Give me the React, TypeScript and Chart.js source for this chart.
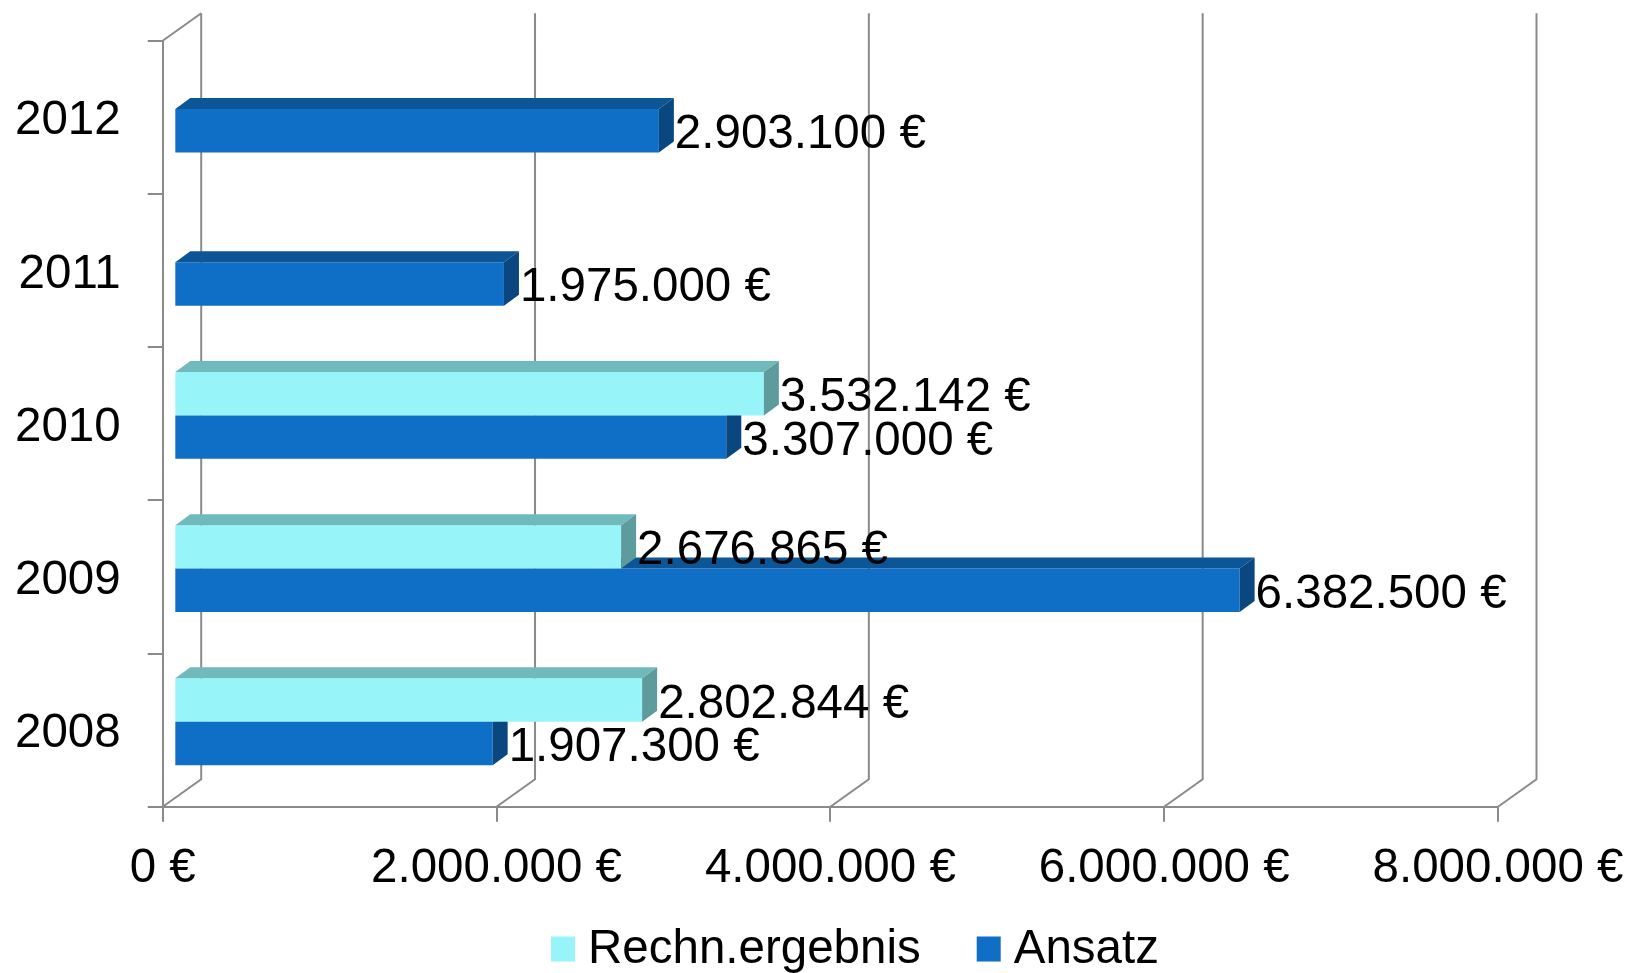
import React, { useEffect, useRef } from "react";
import { Chart, registerables } from "chart.js";

Chart.register(...registerables);

// ---- data ----
const years = ["2008", "2009", "2010", "2011", "2012"];
const rechnErgebnis: (number | null)[] = [2802844, 2676865, 3532142, null, null];
const ansatz: (number | null)[] = [1907300, 6382500, 3307000, 1975000, 2903100];
const xTickValues = [0, 2000000, 4000000, 6000000, 8000000];
const seriesNames = ["Rechn.ergebnis", "Ansatz"];

// ---- styles ----
const FONT = '"Liberation Sans", Arial, sans-serif';
const GRID = "#8a8a8a";
const FRONT = ["#97F5FA", "#0F6FC6"];
const TOP = ["#71BABC", "#0C5596"];
const SIDE = ["#5E9B9D", "#0A467F"];

const WALL_DX = 38.5;
const WALL_DY = -27.5;
const BAR_DX = 11.6;
const BAR_DY = -8.3;
const FACE_DX = 15;
const FACE_DY = -11;

const fmt = (v: number) =>
  String(Math.round(v)).replace(/\B(?=(\d{3})+(?!\d))/g, ".") + " €";

const threeDPlugin = {
  id: "threeD",
  beforeDatasetsDraw(chart: any) {
    const { ctx, chartArea: a, scales } = chart;
    const x = scales.x;
    ctx.save();
    ctx.strokeStyle = GRID;
    ctx.lineWidth = 2;
    ctx.beginPath();
    for (const v of xTickValues) {
      const px = x.getPixelForValue(v);
      ctx.moveTo(px + WALL_DX, a.top + WALL_DY);
      ctx.lineTo(px + WALL_DX, a.bottom + WALL_DY);
      ctx.lineTo(px, a.bottom);
    }
    ctx.moveTo(a.left, a.top);
    ctx.lineTo(a.left + WALL_DX, a.top + WALL_DY);
    ctx.stroke();
    ctx.restore();
    ctx.save();
    ctx.translate(BAR_DX, BAR_DY);
  },
  afterDatasetDraw(chart: any, args: any) {
    const { ctx } = chart;
    const meta = args.meta;
    const di = meta.index;
    const data = chart.data.datasets[di].data;
    meta.data.forEach((el: any, i: number) => {
      if (data[i] === null || data[i] === undefined) return;
      const x0 = el.base;
      const x1 = el.x;
      const yT = el.y - el.height / 2;
      const yB = el.y + el.height / 2;
      ctx.fillStyle = TOP[di];
      ctx.beginPath();
      ctx.moveTo(x0, yT);
      ctx.lineTo(x0 + FACE_DX, yT + FACE_DY);
      ctx.lineTo(x1 + FACE_DX, yT + FACE_DY);
      ctx.lineTo(x1, yT);
      ctx.closePath();
      ctx.fill();
      ctx.fillStyle = SIDE[di];
      ctx.beginPath();
      ctx.moveTo(x1, yT);
      ctx.lineTo(x1 + FACE_DX, yT + FACE_DY);
      ctx.lineTo(x1 + FACE_DX, yB + FACE_DY);
      ctx.lineTo(x1, yB);
      ctx.closePath();
      ctx.fill();
    });
  },
  afterDatasetsDraw(chart: any) {
    const { ctx } = chart;
    ctx.restore();
    ctx.save();
    ctx.font = `47.5px ${FONT}`;
    ctx.fillStyle = "#000";
    ctx.textAlign = "left";
    ctx.textBaseline = "alphabetic";
    chart.data.datasets.forEach((ds: any, di: number) => {
      const meta = chart.getDatasetMeta(di);
      meta.data.forEach((el: any, i: number) => {
        const v = ds.data[i];
        if (v === null || v === undefined) return;
        ctx.fillText(fmt(v), el.x + BAR_DX + FACE_DX + 1, el.y + BAR_DY + 17.5);
      });
    });
    ctx.restore();
  },
  afterDraw(chart: any) {
    const { ctx } = chart;
    ctx.save();
    ctx.font = `47.5px ${FONT}`;
    ctx.textBaseline = "middle";
    ctx.textAlign = "left";
    let cx = 551;
    const cy = 949.5;
    seriesNames.forEach((name, i) => {
      ctx.fillStyle = FRONT[i];
      ctx.fillRect(cx, cy - 13, 24, 25);
      cx += 24 + 13;
      ctx.fillStyle = "#000";
      ctx.fillText(name, cx, cy);
      cx += ctx.measureText(name).width + 56;
    });
    ctx.restore();
  },
};

export default function App() {
  const ref = useRef<HTMLCanvasElement>(null);
  useEffect(() => {
    if (!ref.current) return;
    const chart = new Chart(ref.current, {
      type: "bar",
      data: {
        labels: years,
        datasets: [
          {
            label: seriesNames[0],
            data: rechnErgebnis,
            backgroundColor: FRONT[0],
            borderWidth: 0,
            categoryPercentage: 0.567,
            barPercentage: 1,
            clip: false as any,
          },
          {
            label: seriesNames[1],
            data: ansatz,
            backgroundColor: FRONT[1],
            borderWidth: 0,
            categoryPercentage: 0.567,
            barPercentage: 1,
            clip: false as any,
          },
        ],
      },
      options: {
        indexAxis: "y",
        responsive: false,
        animation: false,
        devicePixelRatio: 1,
        layout: { padding: { top: 40.7, right: 132, bottom: 0, left: 0 } },
        plugins: {
          legend: { display: false },
          tooltip: { enabled: false },
        },
        scales: {
          x: {
            type: "linear",
            min: 0,
            max: 8000000,
            afterFit: (s: any) => {
              s.height = 973 - 806.7;
              s.paddingLeft = 0;
              s.paddingRight = 0;
            },
            afterBuildTicks: (s: any) => {
              s.ticks = xTickValues.map((v) => ({ value: v }));
            },
            grid: {
              drawOnChartArea: false,
              drawTicks: true,
              tickLength: 15,
              color: GRID,
              lineWidth: 2,
            },
            border: { display: true, color: GRID, width: 2 },
            ticks: {
              padding: 19,
              color: "#000",
              font: { family: FONT, size: 47.5 },
              maxRotation: 0,
              autoSkip: false,
              callback: (v: any) => fmt(Number(v)),
            },
          },
          y: {
            type: "category",
            reverse: true,
            afterFit: (s: any) => {
              s.width = 162.7;
              s.paddingTop = 0;
              s.paddingBottom = 0;
            },
            grid: {
              drawOnChartArea: false,
              drawTicks: true,
              tickLength: 15,
              offset: true,
              color: GRID,
              lineWidth: 2,
            },
            border: { display: true, color: GRID, width: 2 },
            ticks: {
              padding: 27,
              labelOffset: 4,
              color: "#000",
              font: { family: FONT, size: 47.5 },
            },
          },
        },
      },
      plugins: [threeDPlugin],
    } as any);
    return () => chart.destroy();
  }, []);
  return (
    <div style={{ position: "absolute", left: 0, top: 0, width: 1630, height: 973, background: "#fff" }}>
      <canvas ref={ref} width={1630} height={973} style={{ display: "block" }} />
    </div>
  );
}
